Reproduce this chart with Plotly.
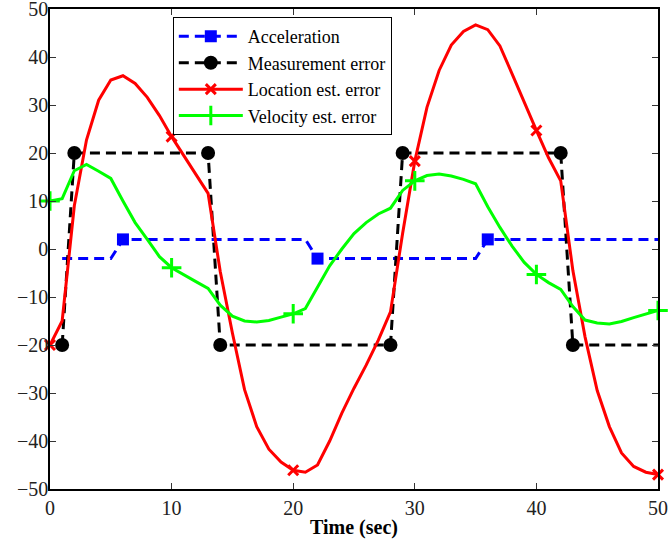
import plotly.graph_objects as go

# ---- data ----
t_est = list(range(0, 51))
location_err = [-20, -15, 9, 22.7, 31, 35.2, 36.1, 34.5, 31.6, 27.8,
                23.4, 19.4, 15.5, 11.6, -4.7, -17.5, -29.3, -37, -41.7, -44.4,
                -46.1, -46.5, -45, -40, -34.2, -29, -24.2, -19, -13.1, 3.3,
                18.3, 29.5, 37.2, 42.5, 45.3, 46.7, 45.7, 42.3, 36.5, 30.4,
                24.7, 19, 14.2, -4.5, -18.3, -29.5, -37, -42.5, -45.3, -46.5,
                -47]
velocity_err = [10, 10.5, 16.3, 17.6, 16.2, 14.7, 10, 5.5, 2, -1.6,
                -3.9, -5.4, -6.8, -8.2, -11.7, -14, -15, -15.2, -14.9, -14.2,
                -13.5, -12.4, -7.8, -3.5, 0, 3.2, 5.5, 7.3, 8.5, 12.2,
                14.2, 15.3, 15.6, 15.2, 14.5, 13.6, 8.8, 4.5, 0.6, -2.8,
                -5.3, -7, -8.4, -12, -14.8, -15.4, -15.6, -15.1, -14.3, -13.6,
                -12.8]
t_meas = list(range(1, 51))
acceleration = [-2, -2, -2, -2, -2, 2, 2, 2, 2, 2,
                2, 2, 2, 2, 2, 2, 2, 2, 2, 2,
                2, -2, -2, -2, -2, -2, -2, -2, -2, -2,
                -2, -2, -2, -2, -2, 2, 2, 2, 2, 2,
                2, 2, 2, 2, 2, 2, 2, 2, 2, 2]
measurement_err = [-20, 20, 20, 20, 20, 20, 20, 20, 20, 20,
                   20, 20, 20, -20, -20, -20, -20, -20, -20, -20,
                   -20, -20, -20, -20, -20, -20, -20, -20, 20, 20,
                   20, 20, 20, 20, 20, 20, 20, 20, 20, 20,
                   20, 20, -20, -20, -20, -20, -20, -20, -20, -20]
accel_marker_t = [6, 22, 36]
meas_marker_t = [1, 2, 13, 14, 28, 29, 42, 43]
est_marker_t = [0, 10, 20, 30, 40, 50]

x_ticks = [0, 10, 20, 30, 40, 50]
y_ticks = [-50, -40, -30, -20, -10, 0, 10, 20, 30, 40, 50]

names = ["Acceleration", "Measurement error", "Location est. error", "Velocity est. error"]

BLUE, BLACK, RED, GREEN = "#0000FF", "#000000", "#FF0000", "#00FF00"
DASH = "10px,6px"
LW = 3

def pick(tt, vals, sel):
    return [vals[tt.index(s)] for s in sel]

fig = go.Figure()

series = [
    (t_meas, acceleration, accel_marker_t, BLUE, DASH,
     dict(symbol="square", size=12, color=BLUE, line=dict(width=0))),
    (t_meas, measurement_err, meas_marker_t, BLACK, DASH,
     dict(symbol="circle", size=14, color=BLACK, line=dict(width=0))),
    (t_est, location_err, est_marker_t, RED, "solid",
     dict(symbol="x-thin", size=10, color=RED, line=dict(width=3, color=RED))),
    (t_est, velocity_err, est_marker_t, GREEN, "solid",
     dict(symbol="cross-thin", size=14, color=GREEN, line=dict(width=3, color=GREEN))),
]

for name, (tt, vals, msel, col, dash, mk) in zip(names, series):
    fig.add_trace(go.Scatter(x=tt, y=vals, mode="lines",
                             line=dict(color=col, width=LW, dash=dash),
                             showlegend=False, hoverinfo="skip"))
    fig.add_trace(go.Scatter(x=msel, y=pick(tt, vals, msel), mode="markers",
                             marker=mk, cliponaxis=False, showlegend=False))
    fig.add_trace(go.Scatter(x=[None], y=[None], mode="lines+markers", name=name,
                             line=dict(color=col, width=LW, dash=dash),
                             marker=mk, showlegend=True))

FONT = "Liberation Serif"

axis_common = dict(showgrid=False, zeroline=False, showline=True, linecolor="#000000",
                   linewidth=1.5, mirror="ticks", ticks="inside", ticklen=6,
                   tickwidth=1, tickcolor="#333333", automargin=False,
                   ticklabeloverflow="allow",
                   tickfont=dict(family=FONT, size=20, color="#222222"))

fig.update_layout(
    width=669, height=543,
    margin=dict(l=50, r=11, t=9, b=54),
    paper_bgcolor="white", plot_bgcolor="white",
    font=dict(family=FONT, color="#000000"),
    xaxis=dict(range=[0, 50], tickvals=x_ticks,
               title=dict(text="<b>Time (sec)</b>", font=dict(family=FONT, size=20), standoff=2),
               **axis_common),
    yaxis=dict(range=[-50, 50], tickvals=y_ticks, ticklabelstandoff=-4, **axis_common),
    legend=dict(x=0.202, y=0.983, xanchor="left", yanchor="top",
                bgcolor="white", bordercolor="#000000", borderwidth=1,
                font=dict(family=FONT, size=18, color="#000000"),
                itemwidth=64, tracegroupgap=0),
)

fig.write_html("out.html")
